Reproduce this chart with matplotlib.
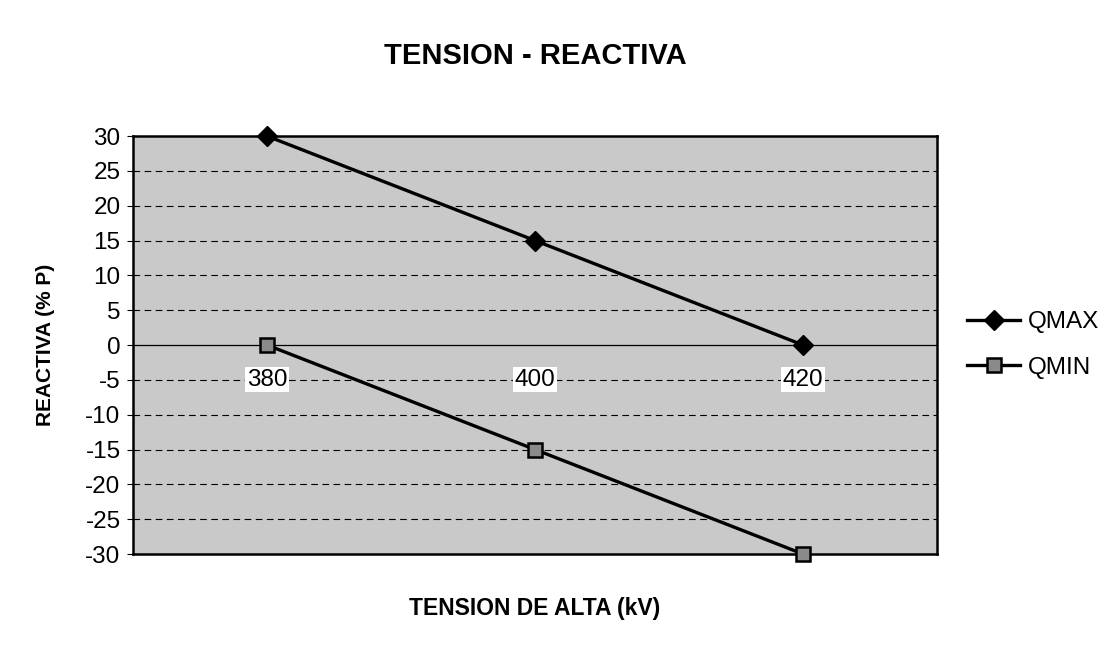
import numpy as np
import matplotlib
matplotlib.use("Agg")
import matplotlib.pyplot as plt

plt.rcParams['font.family'] = ['Liberation Sans', 'DejaVu Sans']
plt.rcParams['axes.unicode_minus'] = False

# data
tension = ['380', '400', '420']
qmax = [30, 15, 0]
qmin = [0, -15, -30]
yticks = list(range(-30, 31, 5))

fig = plt.figure(figsize=(11.15, 6.47), dpi=100)
ax = fig.add_axes([0.1193, 0.1437, 0.7211, 0.646])
ax.set_facecolor('#c9c9c9')

x = np.arange(len(tension))
ax.set_xlim(-0.5, len(tension) - 0.5)
ax.set_ylim(-30, 30)

# dashed gridlines
for v in yticks:
    if v == 0:
        ax.axhline(v, color='black', lw=0.9, zorder=1)
    elif -30 < v < 30:
        ax.axhline(v, color='black', lw=0.8, ls=(0, (6, 4)), zorder=1)

ax.plot(x, qmax, color='black', lw=2.4, marker='D', ms=10,
        mfc='black', mec='black', label='QMAX', zorder=3, clip_on=False)
ax.plot(x, qmin, color='black', lw=2.4, marker='s', ms=10,
        mfc='#8a8a8a', mec='black', mew=1.8, label='QMIN', zorder=3, clip_on=False)

# category labels sit just below the zero line
for xi, lab in zip(x, tension):
    ax.text(xi, -5, lab, ha='center', va='center', fontsize=17.5,
            bbox=dict(facecolor='white', edgecolor='none', pad=1), zorder=2)

ax.set_xticks([])
ax.set_yticks(yticks)
ax.tick_params(axis='y', labelsize=17.5, length=4, width=0.8, pad=5)
for s in ax.spines.values():
    s.set_linewidth(1.8)

ax.set_ylabel('REACTIVA (% P)', fontsize=15, fontweight='bold', labelpad=22)
ax.set_xlabel('TENSION DE ALTA (kV)', fontsize=16.5, fontweight='bold', labelpad=31)
ax.set_title('TENSION - REACTIVA', fontsize=21, fontweight='bold', pad=52)

ax.legend(loc='center left', bbox_to_anchor=(1.01, 0.5), frameon=False,
          fontsize=17.5, handlelength=2.2, handletextpad=0.3, labelspacing=0.95)

fig.savefig('out.png', dpi=100, facecolor='white')
